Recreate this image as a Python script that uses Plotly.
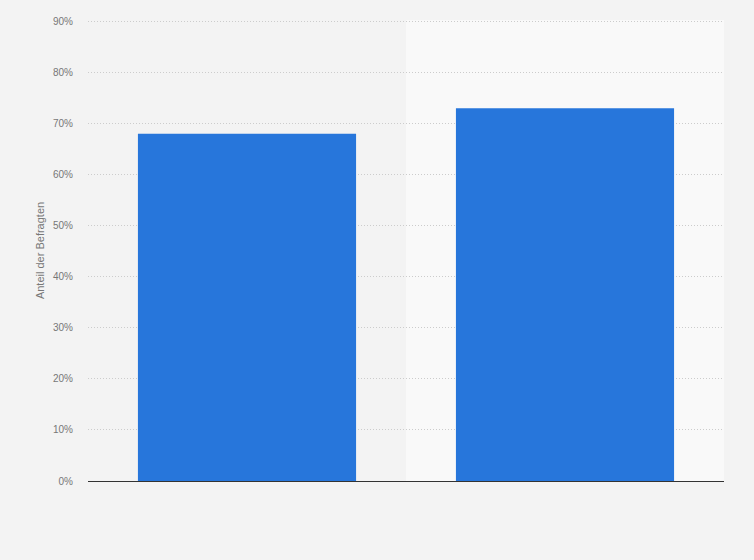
import plotly.graph_objects as go

# data
categories = ["A", "B"]
values = [68, 73]
y_ticks = [0, 10, 20, 30, 40, 50, 60, 70, 80, 90]
y_labels = [f"{t}%" for t in y_ticks]

fig = go.Figure(go.Bar(
    x=categories,
    y=values,
    width=0.686,
    marker=dict(color="#2776db", line=dict(width=0)),
    hovertemplate="%{y}%<extra></extra>",
))

# lighter band behind the second category
fig.add_shape(
    type="rect", xref="x", yref="paper",
    x0=0.5, x1=1.5, y0=0, y1=1,
    fillcolor="#f9f9f9", line=dict(width=0), layer="below",
)

fig.update_layout(
    width=754, height=560,
    margin=dict(l=88, r=30, t=20, b=79),
    paper_bgcolor="#f3f3f3",
    plot_bgcolor="#f3f3f3",
    font=dict(family="Liberation Sans, Arial, sans-serif", size=10, color="#777777"),
    showlegend=False,
)
fig.update_xaxes(
    showticklabels=False, showgrid=False, zeroline=False,
    showline=True, linecolor="#333333", linewidth=1.3,
    range=[-0.5, 1.5], fixedrange=True,
)
fig.update_yaxes(
    range=[0, 90.3], tickvals=y_ticks, ticktext=y_labels,
    showgrid=True, gridcolor="#cccccc", griddash="1px,2px", gridwidth=1,
    zeroline=False, ticks="", ticklabelstandoff=14,
    title=dict(text="Anteil der Befragten", font=dict(size=11, color="#777777"), standoff=6),
    fixedrange=True,
)

fig.write_html(
    "out.html",
    config={"displayModeBar": False},
    post_script="document.body.style.margin='0';document.body.style.overflow='hidden';",
)
